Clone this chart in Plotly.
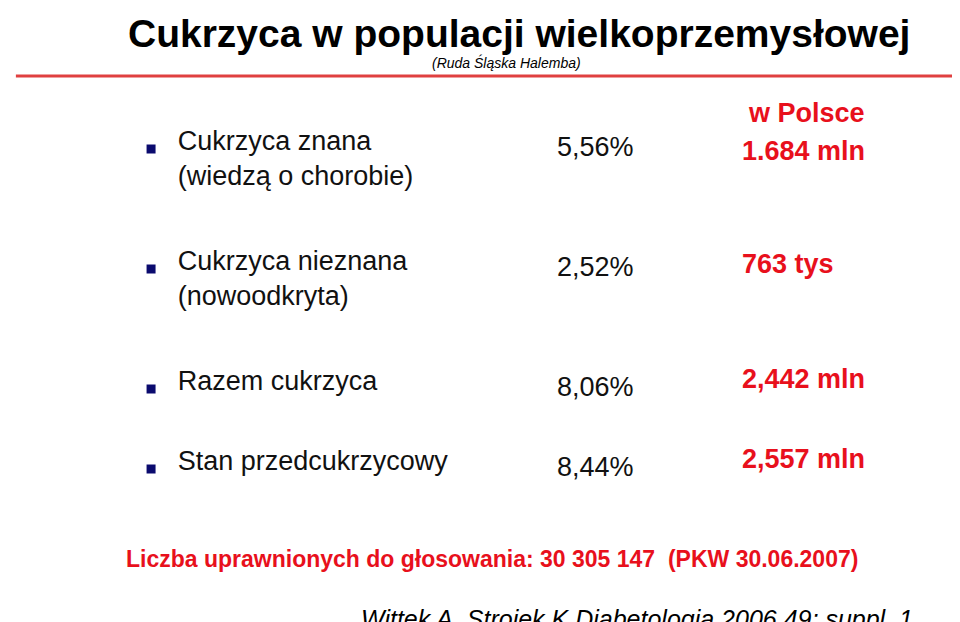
import plotly.graph_objects as go

# data
labels = ["Cukrzyca znana<br>(wiedzą o chorobie)", "Cukrzyca nieznana<br>(nowoodkryta)",
          "Razem cukrzyca", "Stan przedcukrzycowy"]
percents = ["5,56%", "2,52%", "8,06%", "8,44%"]
poland = ["1.684 mln", "763 tys", "2,442 mln", "2,557 mln"]

row_y = [133, 253, 373, 453]
pl_y = [137, 250, 365, 445]
FONT = "Liberation Sans, Arial, sans-serif"
RED = "#e8101c"

fig = go.Figure()
# bullets
fig.add_trace(go.Scatter(x=[137] * 4, y=row_y, mode="markers",
                         marker=dict(symbol="square", size=9, color="#0a0a6e"),
                         hoverinfo="skip"))
# labels (top-anchored so second line falls below)
fig.add_trace(go.Scatter(x=[164] * 4, y=[y - 19 for y in row_y], mode="text",
                         text=labels, textposition="bottom right",
                         textfont=dict(family=FONT, size=27, color="#111")))
fig.add_trace(go.Scatter(x=[626] * 4, y=row_y, mode="text", text=percents,
                         textposition="middle left",
                         textfont=dict(family=FONT, size=27, color="#111")))
fig.add_trace(go.Scatter(x=[736] * 4, y=pl_y, mode="text",
                         text=[f"<b>{p}</b>" for p in poland],
                         textposition="middle right",
                         textfont=dict(family=FONT, size=27, color=RED)))

ann = [
    dict(x=510, y=17, text="<b>Cukrzyca w populacji wielkoprzemysłowej</b>",
         font=dict(family=FONT, size=39, color="black")),
    dict(x=497, y=46, text="<i>(Ruda Śląska Halemba)</i>",
         font=dict(family=FONT, size=14, color="black")),
    dict(x=740, y=97, text="<b>w Polsce</b>", xanchor="left",
         font=dict(family=FONT, size=27, color=RED)),
    dict(x=483, y=543, text="<b>Liczba uprawnionych do głosowania: 30 305 147  (PKW 30.06.2007)</b>",
         font=dict(family=FONT, size=23, color=RED)),
    dict(x=630, y=603, text="<i>Wittek A, Strojek K Diabetologia 2006,49; suppl. 1</i>",
         font=dict(family=FONT, size=25, color="black")),
]
for a in ann:
    a.update(xref="x", yref="y", showarrow=False)
    a.setdefault("xanchor", "center")

fig.update_layout(
    width=960, height=622, margin=dict(l=0, r=0, t=0, b=0),
    plot_bgcolor="white", paper_bgcolor="white", showlegend=False,
    annotations=ann,
    shapes=[dict(type="line", xref="x", yref="y", x0=0, x1=955, y0=60, y1=60,
                 line=dict(color="#e04040", width=3))],
    xaxis=dict(range=[-8, 965], visible=False, fixedrange=True),
    yaxis=dict(range=[614, -8], visible=False, fixedrange=True),
)
fig.write_html("out.html")
